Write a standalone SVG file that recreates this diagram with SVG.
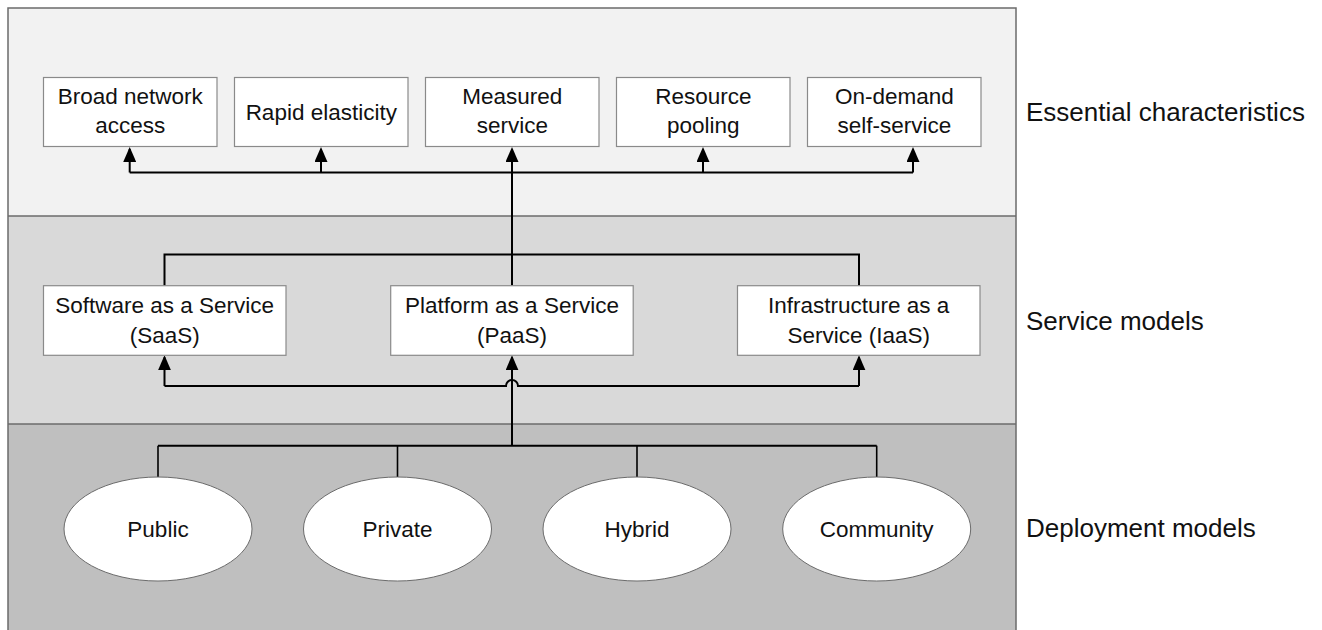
<svg xmlns="http://www.w3.org/2000/svg" width="1322" height="630" viewBox="0 0 1322 630">
  <style>
    .band-top { fill: #f2f2f2; }
    .band-mid { fill: #d9d9d9; }
    .band-low { fill: #bfbfbf; }
    .frame { fill: none; stroke: #6b6b6b; stroke-width: 1.5; }
    .divider { stroke: #6b6b6b; stroke-width: 1.5; }
    .box { fill: #ffffff; stroke: #8a8a8a; stroke-width: 1.2; }
    .oval { fill: #ffffff; stroke: #6b6b6b; stroke-width: 1; }
    .label { font-family: "Liberation Sans", Arial, sans-serif; font-size: 22.5px; fill: #111111; text-anchor: middle; }
    .layer { font-family: "Liberation Sans", Arial, sans-serif; font-size: 26px; fill: #111111; }
    .wire { fill: none; stroke: #000000; stroke-width: 2; }
    .wire-thin { fill: none; stroke: #000000; stroke-width: 1.6; }
    .arrow { marker-end: url(#head); }
  </style>
  <defs>
    <marker id="head" viewBox="0 0 15 13" refX="13" refY="6.5" markerWidth="15" markerHeight="13" markerUnits="userSpaceOnUse" orient="auto">
      <path d="M0 0 L15 6.5 L0 13 Z" fill="#000000"/>
    </marker>
  </defs>

  <rect width="1322" height="630" fill="#ffffff"/>

  <!-- three horizontal layers -->
  <g id="layers">
    <rect class="band-top" x="8" y="8" width="1008" height="208"/>
    <rect class="band-mid" x="8" y="216" width="1008" height="208"/>
    <rect class="band-low" x="8" y="424" width="1008" height="210"/>
    <line class="divider" x1="8" y1="216" x2="1016" y2="216"/>
    <line class="divider" x1="8" y1="424" x2="1016" y2="424"/>
    <rect class="frame" x="8" y="8" width="1008" height="640"/>
  </g>

  <!-- connectors -->
  <g id="connectors">
    <!-- essential characteristics bus -->
    <path class="wire" d="M129.7 172.5 H913"/>
    <path class="wire arrow" d="M129.7 172.5 V149"/>
    <path class="wire arrow" d="M321 172.5 V149"/>
    <path class="wire arrow" d="M512 285.7 V149"/>
    <path class="wire arrow" d="M703 172.5 V149"/>
    <path class="wire arrow" d="M913 172.5 V149"/>
    <!-- service models upper bus -->
    <path class="wire" d="M164.5 285.7 V254.5 H859 V285.7"/>
    <!-- service models lower bus with hop over the centre riser -->
    <path class="wire" d="M164.5 386 H506 A6 6 0 0 1 518 386 H859"/>
    <path class="wire arrow" d="M164.5 386 V357.3"/>
    <path class="wire arrow" d="M859 386 V357.3"/>
    <path class="wire arrow" d="M512 445.7 V357.3"/>
    <!-- deployment models bus -->
    <path class="wire" d="M158 445.7 H876.7"/>
    <path class="wire-thin" d="M158 445.7 V477"/>
    <path class="wire-thin" d="M397.5 445.7 V477"/>
    <path class="wire-thin" d="M637 445.7 V477"/>
    <path class="wire-thin" d="M876.7 445.7 V477"/>
  </g>

  <!-- essential characteristics -->
  <g id="broad-network-access">
    <rect class="box" x="43.5" y="77.5" width="173.5" height="69"/>
    <text class="label" x="130.3" y="104">Broad network</text>
    <text class="label" x="130.3" y="133">access</text>
  </g>
  <g id="rapid-elasticity">
    <rect class="box" x="234.5" y="77.5" width="173.5" height="69"/>
    <text class="label" x="321.3" y="119.5">Rapid elasticity</text>
  </g>
  <g id="measured-service">
    <rect class="box" x="425.5" y="77.5" width="173.5" height="69"/>
    <text class="label" x="512.3" y="104">Measured</text>
    <text class="label" x="512.3" y="133">service</text>
  </g>
  <g id="resource-pooling">
    <rect class="box" x="616.5" y="77.5" width="173.5" height="69"/>
    <text class="label" x="703.3" y="104">Resource</text>
    <text class="label" x="703.3" y="133">pooling</text>
  </g>
  <g id="on-demand-self-service">
    <rect class="box" x="807.5" y="77.5" width="173.5" height="69"/>
    <text class="label" x="894.3" y="104">On-demand</text>
    <text class="label" x="894.3" y="133">self-service</text>
  </g>

  <!-- service models -->
  <g id="saas">
    <rect class="box" x="43.5" y="285.7" width="242.5" height="69.6"/>
    <text class="label" x="164.7" y="312.7">Software as a Service</text>
    <text class="label" x="164.7" y="343">(SaaS)</text>
  </g>
  <g id="paas">
    <rect class="box" x="390.7" y="285.7" width="242.5" height="69.6"/>
    <text class="label" x="512" y="312.7">Platform as a Service</text>
    <text class="label" x="512" y="343">(PaaS)</text>
  </g>
  <g id="iaas">
    <rect class="box" x="737.5" y="285.7" width="242.5" height="69.6"/>
    <text class="label" x="858.7" y="312.7">Infrastructure as a</text>
    <text class="label" x="858.7" y="343">Service (IaaS)</text>
  </g>

  <!-- deployment models -->
  <g id="public">
    <ellipse class="oval" cx="158" cy="529" rx="94" ry="52"/>
    <text class="label" x="158" y="537">Public</text>
  </g>
  <g id="private">
    <ellipse class="oval" cx="397.5" cy="529" rx="94" ry="52"/>
    <text class="label" x="397.5" y="537">Private</text>
  </g>
  <g id="hybrid">
    <ellipse class="oval" cx="637" cy="529" rx="94" ry="52"/>
    <text class="label" x="637" y="537">Hybrid</text>
  </g>
  <g id="community">
    <ellipse class="oval" cx="876.7" cy="529" rx="94" ry="52"/>
    <text class="label" x="876.7" y="537">Community</text>
  </g>

  <!-- layer captions -->
  <g id="captions">
    <text class="layer" x="1026" y="121">Essential characteristics</text>
    <text class="layer" x="1026" y="329.5">Service models</text>
    <text class="layer" x="1026" y="537">Deployment models</text>
  </g>
</svg>
